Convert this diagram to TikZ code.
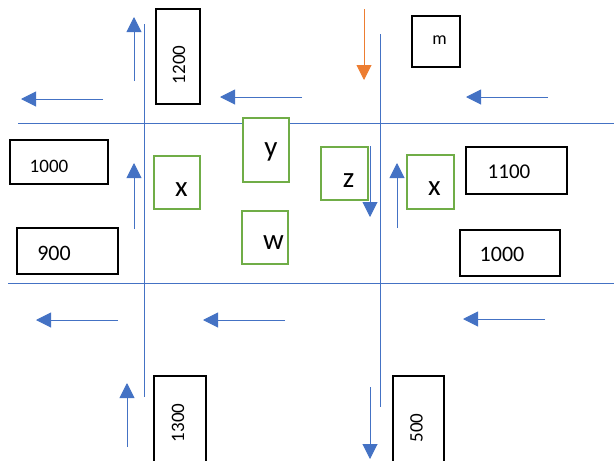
\documentclass[tikz,border=0pt]{standalone}
\usepackage{fontspec}
\setmainfont{Carlito}
\usetikzlibrary{arrows.meta}
\definecolor{obl}{HTML}{4472C4}
\definecolor{oor}{HTML}{ED7D31}
\definecolor{ogr}{HTML}{70AD47}
\begin{document}
\begin{tikzpicture}[x=1pt,y=-1pt,
  road/.style={draw=obl,line width=1pt},
  flow/.style={draw=obl,line width=1pt,-{Triangle[length=15pt,width=15pt]}},
  oflow/.style={draw=oor,line width=1pt,-{Triangle[length=15pt,width=15pt]}},
  blackbox/.style={draw=black,fill=white,line width=2pt,inner sep=0pt},
  greenbox/.style={draw=ogr,fill=white,line width=2.4pt,inner sep=0pt},
  num/.style={inner sep=0pt,font=\fontsize{19}{19}\selectfont},
  letter/.style={inner sep=0pt,font=\fontsize{29}{29}\selectfont}]
\useasboundingbox (0,0) rectangle (614,461);
\clip (0,0) rectangle (614,461);
% roads
\draw[road] (18,123) -- (614,123);
\draw[road] (8,283) -- (614,283);
\draw[road] (144,24) -- (144,397);
\draw[road] (380,34) -- (380,407);
% black boxes
\node[blackbox,minimum width=44pt,minimum height=95pt] (b1200) at (178,56.5) {};
\node[blackbox,minimum width=98pt,minimum height=44pt] (b1000L) at (59,162) {};
\node[blackbox,minimum width=101pt,minimum height=46pt] (b900) at (67.5,251) {};
\node[blackbox,minimum width=52pt,minimum height=99pt] (b1300) at (180,425.5) {};
\node[blackbox,minimum width=48pt,minimum height=51pt] (bm) at (436,41.5) {};
\node[blackbox,minimum width=101pt,minimum height=47pt] (b1100) at (516.5,170.5) {};
\node[blackbox,minimum width=100pt,minimum height=46pt] (b1000R) at (510,253) {};
\node[blackbox,minimum width=51pt,minimum height=99pt] (b500) at (418.5,425.5) {};
% labels of black boxes
\node[num,rotate=90] (t1200) at (179,65) {1200};
\node[num] (t1000L) at (49,166) {1000};
\node[num,font=\fontsize{22}{22}\selectfont] (t900) at (54,253) {900};
\node[num,rotate=90] (t1300) at (178,423) {1300};
\node[num,font=\fontsize{18}{18}\selectfont] (tm) at (439.5,40) {m};
\node[num,font=\fontsize{21}{21}\selectfont] (t1100) at (509,171.5) {1100};
\node[num,font=\fontsize{22}{22}\selectfont] (t1000R) at (502,254) {1000};
\node[num,rotate=90] (t500) at (416.5,428) {500};
% green boxes
\node[greenbox,minimum width=46pt,minimum height=53pt] (gxL) at (177,182.5) {};
\node[greenbox,minimum width=46pt,minimum height=64pt] (gy) at (266,150) {};
\node[greenbox,minimum width=46pt,minimum height=53pt] (gw) at (265,237.5) {};
\node[greenbox,minimum width=47pt,minimum height=53pt] (gz) at (344.5,173.5) {};
\node[greenbox,minimum width=47pt,minimum height=54pt] (gxR) at (430.5,182) {};
\node[letter] (lxL) at (181.5,189.7) {x};
\node[letter] (ly) at (271,152) {y};
\node[letter] (lw) at (273.5,243) {w};
\node[letter] (lz) at (348.5,180.7) {z};
\node[letter] (lxR) at (434.5,188.3) {x};
% flow arrows
\draw[flow] (134,81) -- (134,17);
\draw[flow] (103,99) -- (21,99);
\draw[flow] (302,97) -- (220,97);
\draw[oflow] (364,9) -- (364,80);
\draw[flow] (548,97) -- (466,97);
\draw[flow] (134,229) -- (134,163);
\draw[flow] (370,146) -- (370,217);
\draw[flow] (397,228) -- (397,163);
\draw[flow] (118,320) -- (36,320);
\draw[flow] (285,320) -- (203,320);
\draw[flow] (545,319) -- (463,319);
\draw[flow] (127,447) -- (127,383);
\draw[flow] (370,387) -- (370,459);
\end{tikzpicture}
\end{document}
